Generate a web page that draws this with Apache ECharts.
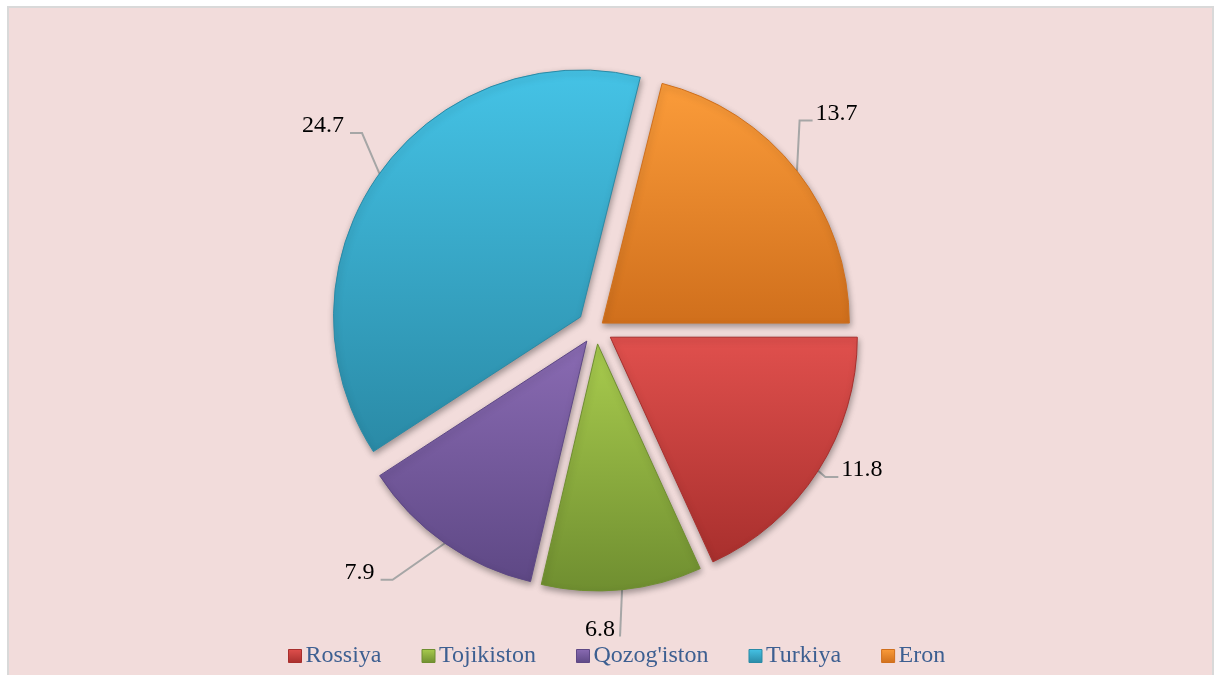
<!DOCTYPE html>
<html>
<head>
<meta charset="utf-8">
<script src="https://cdn.jsdelivr.net/npm/echarts@6/dist/echarts.min.js"></script>
<style>
  html, body { margin: 0; padding: 0; background: #fff; }
  #chart { width: 1216px; height: 675px; }
</style>
</head>
<body>
<div id="chart"></div>
<script>
const categories = ['Rossiya', 'Tojikiston', "Qozog'iston", 'Turkiya', 'Eron']
const values = [11.8, 6.8, 7.9, 24.7, 13.7]
// top / bottom colours for each slice
const topColors = ['#e0504d', '#a9cc4e', '#8a6bb3', '#45c3e6', '#fb9c3a']
const bottomColors = ['#a82f2d', '#6f8e30', '#5e4885', '#2a8aa6', '#d06f1c']
// how far each slice is pulled out
const explode = [17, 16, 16, 19, 8]
// nudges for the value labels and which side the leader line meets them
const labelDx = [-25, -63, -30, 12, -28]
const labelDy = [-17, 10, 5, -30, -39]
const lineSide = ['left', 'down', 'right', 'right', 'left']

const chart = echarts.init(document.getElementById('chart'))

function grad(i) {
  return new echarts.graphic.LinearGradient(0, 0, 0, 1, [
    { offset: 0, color: topColors[i] },
    { offset: 1, color: bottomColors[i] }
  ])
}

// move label, then bend the leader line so it ends under the label like excel does
function moveLabel(s, p) {
  const r = p.labelRect
  const x = r.x + labelDx[s]
  const y = r.y + labelDy[s]
  const ly = y + r.height / 2 + 7
  const out = { dx: labelDx[s], dy: labelDy[s] }
  if (!p.labelLinePoints) return out
  const a = p.labelLinePoints[0]
  if (lineSide[s] === 'left') {
    out.labelLinePoints = [a, [x - 16, ly], [x - 3, ly]]
  } else if (lineSide[s] === 'right') {
    out.labelLinePoints = [a, [x + r.width + 18, ly], [x + r.width + 6, ly]]
  } else {
    out.labelLinePoints = [a, [x + r.width + 5, ly], [x + r.width + 5, ly]]
  }
  return out
}

// one pie per slice so every slice can have its own explosion
const series = categories.map((cat, s) => ({
  type: 'pie',
  name: cat,
  center: [596, 328],
  radius: [0, 247],
  startAngle: 0,
  clockwise: true,
  selectedMode: 'multiple',
  selectedOffset: explode[s],
  animation: false,
  legendHoverLink: false,
  emphasis: { disabled: true },
  labelLayout: (p) => moveLabel(s, p),
  data: categories.map((name, i) => i === s ? {
    name: name,
    value: values[i],
    selected: true,
    itemStyle: {
      color: grad(i), borderColor: bottomColors[i], borderWidth: 1,
      shadowBlur: 6, shadowColor: 'rgba(0,0,0,0.35)', shadowOffsetX: 1, shadowOffsetY: 3
    },
    label: {
      show: true,
      formatter: '{c}',
      fontFamily: 'Liberation Serif',
      fontSize: 24,
      color: '#000'
    },
    labelLine: {
      show: true,
      length: 30,
      length2: 18,
      lineStyle: { color: '#a6a6a6', width: 2 }
    }
  } : {
    name: name,
    value: values[i],
    itemStyle: { color: 'rgba(0,0,0,0)' },
    label: { show: false },
    labelLine: { show: false },
    silent: true
  })
}))

const option = {
  backgroundColor: '#ffffff',
  graphic: [{
    type: 'rect',
    shape: { x: 8, y: 7, width: 1205, height: 680 },
    style: { fill: '#f2dcdb', stroke: '#d9d9d9', lineWidth: 2 },
    z: -10
  }],
  legend: {
    bottom: 2,
    left: 283,
    itemWidth: 13,
    itemHeight: 13,
    itemGap: 40,
    icon: 'rect',
    selectedMode: false,
    textStyle: { fontFamily: 'Liberation Serif', fontSize: 24, color: '#3d5f91', padding: [0, 0, 0, -1] },
    data: categories.map((name, i) => ({
      name: name,
      itemStyle: { color: grad(i), borderColor: bottomColors[i], borderWidth: 1 }
    }))
  },
  series: series
}

chart.setOption(option)
</script>
</body>
</html>
